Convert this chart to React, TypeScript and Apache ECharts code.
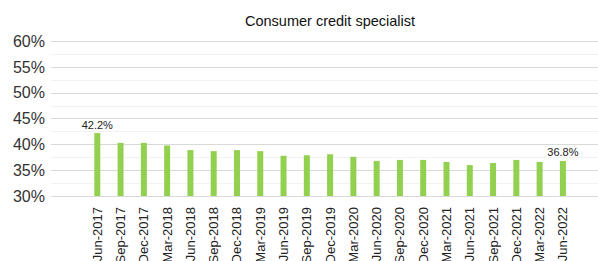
import React, { useEffect, useRef } from "react";
import * as echarts from "echarts";

const title = "Consumer credit specialist";
const categories = [
  "Jun-2017", "Sep-2017", "Dec-2017", "Mar-2018", "Jun-2018", "Sep-2018", "Dec-2018",
  "Mar-2019", "Jun-2019", "Sep-2019", "Dec-2019", "Mar-2020", "Jun-2020", "Sep-2020",
  "Dec-2020", "Mar-2021", "Jun-2021", "Sep-2021", "Dec-2021", "Mar-2022", "Jun-2022",
];
const values = [
  42.2, 40.3, 40.3, 39.8, 38.9, 38.7, 38.9, 38.7, 37.8, 37.9, 38.1, 37.6, 36.8, 37.0,
  37.0, 36.6, 36.0, 36.4, 37.0, 36.6, 36.8,
];
const labelledIndices = [0, 20];
const yMin = 30;
const yMax = 60;
const yStep = 5;

const FONT = "'Liberation Sans', Arial, sans-serif";

export default function App() {
  const ref = useRef<HTMLDivElement>(null);
  useEffect(() => {
    if (!ref.current) return;
    const chart = echarts.init(ref.current, null, { renderer: "svg" });
    const catWidth = 23.28;
    const top = 41.3;
    const height = 154.7;
    chart.setOption({
      animation: false,
      textStyle: { fontFamily: FONT },
      graphic: [
        {
          type: "text",
          x: 330,
          y: 21,
          style: {
            text: title,
            fontFamily: FONT,
            fontSize: 14.5,
            fill: "#111",
            textAlign: "center",
            textVerticalAlign: "middle",
          },
        },
      ],
      grid: [
        { left: 51, top, width: 560, height, outerBoundsMode: "none", containLabel: false },
        {
          left: 97.3 - catWidth / 2,
          top,
          width: catWidth * categories.length,
          height,
          outerBoundsMode: "none",
          containLabel: false,
        },
      ],
      xAxis: [
        { type: "category", gridIndex: 0, data: [], show: false },
        {
          type: "category",
          gridIndex: 1,
          data: categories,
          axisLine: { show: false },
          axisTick: { show: false },
          axisLabel: {
            rotate: 90,
            interval: 0,
            margin: 11,
            fontSize: 13,
            color: "#222",
            fontFamily: FONT,
          },
        },
      ],
      yAxis: [
        {
          type: "value",
          gridIndex: 0,
          min: yMin,
          max: yMax,
          interval: yStep,
          axisLine: { show: false },
          axisTick: { show: false },
          axisLabel: {
            formatter: "{value}%",
            fontSize: 16,
            color: "#333",
            margin: 6,
            fontFamily: FONT,
          },
          splitLine: { lineStyle: { color: "#d9d9d9", width: 1 } },
          minorTick: { show: false, splitNumber: 2 },
          minorSplitLine: { show: true, lineStyle: { color: "#f2f2f2", width: 1 } },
        },
        {
          type: "value",
          gridIndex: 1,
          min: yMin,
          max: yMax,
          interval: yStep,
          show: false,
          splitLine: { show: false },
        },
      ],
      series: [
        {
          type: "bar",
          xAxisIndex: 1,
          yAxisIndex: 1,
          barWidth: 6,
          itemStyle: { color: "#92D050" },
          data: values.map((v, i) => ({
            value: v,
            label: {
              show: labelledIndices.includes(i),
              position: "top",
              distance: 3,
              formatter: (p: any) => `${p.value.toFixed(1)}%`,
              fontSize: 11,
              color: "#222",
              fontFamily: FONT,
            },
          })),
        },
      ],
    });
    return () => chart.dispose();
  }, []);
  return (
    <div
      ref={ref}
      style={{ position: "fixed", left: 0, top: 0, width: 598, height: 261, background: "#fff" }}
    />
  );
}
